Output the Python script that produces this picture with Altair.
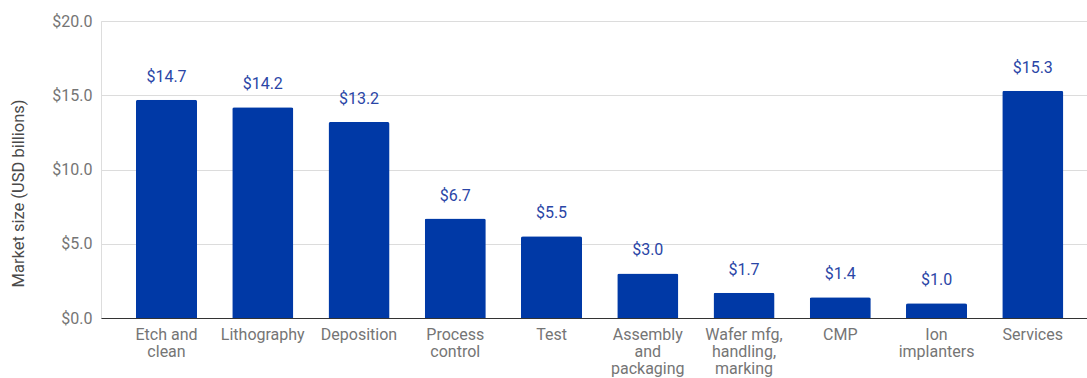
import altair as alt
import pandas as pd

# Equipment segments and market size (USD billions)
segments = [
    "Etch and|clean", "Lithography", "Deposition", "Process|control", "Test",
    "Assembly|and|packaging", "Wafer mfg,|handling,|marking", "CMP",
    "Ion|implanters", "Services",
]
market_size = [14.7, 14.2, 13.2, 6.7, 5.5, 3.0, 1.7, 1.4, 1.0, 15.3]
y_ticks = [0, 5, 10, 15, 20]

df = pd.DataFrame({"segment": segments, "size": market_size})
df["label"] = df["size"].map(lambda v: f"${v:.1f}")

FONT = "Roboto"
BAR = "#0039a6"
LABEL_BLUE = "#2a45a6"
GRAY = "#757575"

x_scale = alt.Scale(paddingInner=0.366, paddingOuter=0.305, align=0.596)
y_scale = alt.Scale(domain=[0, 20], nice=False)

x_enc = alt.X(
    "segment:N",
    sort=segments,
    scale=x_scale,
    axis=alt.Axis(
        title=None,
        labelExpr="split(datum.label, '|')",
        labelAngle=0,
        labelFont=FONT,
        labelFontSize=16,
        labelColor=GRAY,
        labelLineHeight=17,
        labelBaseline="top",
        labelPadding=8,
        ticks=False,
        domain=True,
        domainColor="#333333",
        domainWidth=1.2,
        grid=False,
    ),
)

y_enc = alt.Y(
    "size:Q",
    scale=y_scale,
    axis=alt.Axis(
        title="Market size (USD billions)",
        titleFont=FONT,
        titleFontSize=16.5,
        titleFontWeight="normal",
        titleColor="#4a4a4a",
        titleAngle=270,
        titleX=-83,
        titleY=172,
        titleAlign="center",
        titleBaseline="middle",
        values=y_ticks,
        labelExpr="'$' + format(datum.value, '.1f')",
        labelFont=FONT,
        labelFontSize=16,
        labelColor=GRAY,
        labelPadding=9,
        ticks=False,
        domain=False,
        gridColor="#dcdcdc",
        gridWidth=1,
    ),
)

bars = alt.Chart(df).mark_bar(
    color=BAR, cornerRadiusTopLeft=2, cornerRadiusTopRight=2
).encode(x=x_enc, y=y_enc)

labels = alt.Chart(df).mark_text(
    font=FONT, fontSize=16, color=LABEL_BLUE, baseline="alphabetic", dy=-18
).encode(
    x=alt.X("segment:N", sort=segments),
    y=alt.Y("size:Q"),
    text="label:N",
)

chart = (
    alt.layer(bars, labels)
    .properties(
        width=986,
        height=297,
        padding={"left": 101, "top": 21, "right": 0, "bottom": 60},
        autosize=alt.AutoSizeParams(type="none"),
    )
    .configure_view(strokeWidth=0)
    .configure(background="white")
)

chart.save("out.html", embed_options={"renderer": "svg", "actions": False})
